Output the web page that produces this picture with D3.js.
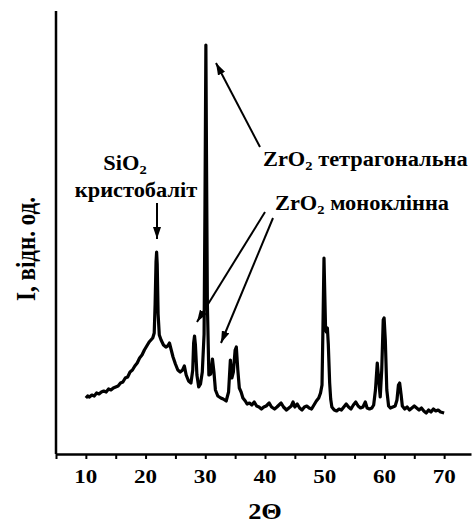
<!DOCTYPE html>
<html>
<head>
<meta charset="utf-8">
<script src="https://cdn.jsdelivr.net/npm/d3@7"></script>
<style>
  body { margin: 0; background: #fff; }
  text { font-family: "Liberation Serif", "Times New Roman", serif; font-weight: bold; fill: #000; }
</style>
</head>
<body>
<div id="chart"></div>
<script>
// XRD pattern, 2Theta in degrees, intensity in arbitrary units
const twoTheta = [
  10.0, 10.3, 10.6, 11.0, 11.4, 11.8, 12.2, 12.6, 13.0, 13.4, 13.8, 14.2, 14.6, 15.0, 15.4, 15.8,
  16.2, 16.6, 17.0, 17.4, 17.8, 18.2, 18.6, 19.0, 19.4, 19.8, 20.2, 20.6, 20.9, 21.2, 21.45, 21.6,
  21.75, 21.85, 21.95, 22.1, 22.3, 22.6, 23.0, 23.4, 23.7, 24.0, 24.3, 24.6, 25.0, 25.4, 25.8, 26.2,
  26.5, 26.8, 27.2, 27.6, 27.9, 28.05, 28.2, 28.35, 28.6, 28.9, 29.2, 29.5, 29.8, 29.95, 30.1, 30.2,
  30.35, 30.6, 30.9, 31.2, 31.45, 31.7, 32.1, 32.6, 33.0, 33.5, 33.9, 34.2, 34.45, 34.7, 35.0, 35.2,
  35.45, 35.7, 36.0, 36.3, 36.7, 37.0, 37.4, 37.8, 38.2, 38.6, 39.0, 39.4, 39.8, 40.2, 40.7, 41.1,
  41.6, 42.0, 42.7, 43.1, 43.6, 44.0, 44.4, 44.7, 45.0, 45.4, 45.8, 46.2, 46.6, 47.0, 47.4, 47.8,
  48.2, 48.6, 49.0, 49.3, 49.55, 49.7, 49.88, 50.05, 50.15, 50.3, 50.45, 50.6, 50.83, 51.0, 51.2, 51.6,
  52.0, 52.4, 52.8, 53.2, 53.6, 54.0, 54.4, 54.8, 55.2, 55.6, 56.0, 56.4, 56.8, 57.1, 57.5, 57.9,
  58.2, 58.5, 58.8, 59.05, 59.3, 59.55, 59.8, 59.95, 60.15, 60.4, 60.7, 61.0, 61.4, 61.8, 62.1, 62.35,
  62.55, 62.8, 63.0, 63.4, 63.8, 64.2, 64.6, 65.0, 65.4, 65.8, 66.2, 66.6, 67.0, 67.4, 67.8, 68.2,
  68.6, 69.0, 69.4, 70.0
];
const intensity = [
  56, 58, 57, 59, 58, 61, 60, 62, 63, 62, 65, 64, 66, 67, 68, 71,
  72, 76, 77, 82, 84, 88, 91, 96, 99, 104, 108, 112, 114, 116, 121, 150,
  192, 202, 190, 140, 119, 114, 109, 107, 108, 111, 104, 97, 90, 84, 82, 84,
  88, 79, 73, 71, 84, 111, 118, 109, 79, 67, 70, 82, 120, 250, 409, 300,
  150, 79, 80, 95, 82, 64, 58, 56, 55, 53, 62, 94, 76, 82, 104, 107,
  84, 66, 62, 56, 53, 50, 51, 49, 52, 48, 47, 45, 47, 48, 51, 47,
  45, 47, 51, 47, 44, 46, 48, 52, 47, 50, 46, 44, 47, 48, 46, 45,
  49, 53, 56, 61, 69, 124, 196, 150, 124, 122, 126, 110, 71, 55, 47, 44,
  43, 45, 44, 47, 50, 47, 45, 49, 52, 48, 46, 47, 52, 46, 45, 46,
  49, 64, 91, 74, 57, 84, 134, 136, 114, 64, 48, 46, 47, 48, 54, 69,
  71, 59, 48, 45, 47, 44, 46, 48, 46, 44, 46, 43, 41, 44, 42, 45,
  43, 44, 42, 41
];
const xTickLabels = [10, 20, 30, 40, 50, 60, 70];
const xMinorTicks = d3.range(5, 71, 5);

const data = twoTheta.map((t, i) => ({t: t, v: intensity[i]}));

const width = 472, height = 525;
const margins = {top: 11, right: 1, bottom: 71, left: 56};

const svg = d3.select("#chart")
  .append("svg")
  .attr("width", width)
  .attr("height", height);

// scales
const xScale = d3.scaleLinear()
  .domain([5, 74.5])
  .range([margins.left, width - margins.right]);

const yScale = d3.scaleLinear()
  .domain([0, 443])
  .range([height - margins.bottom, margins.top]);

// the original picture is a bit stretched sideways, so text gets a scaleX
const place = (x, y, sx, rot) =>
  `translate(${x},${y})${rot ? ` rotate(${rot})` : ""} scale(${sx},1)`;

// arrow head
svg.append("defs").append("marker")
  .attr("id", "head")
  .attr("viewBox", "0 0 12 8")
  .attr("refX", 12).attr("refY", 4)
  .attr("markerWidth", 12).attr("markerHeight", 8)
  .attr("markerUnits", "userSpaceOnUse")
  .attr("orient", "auto")
  .append("path")
  .attr("d", "M0,0 L12,4 L0,8 Z")
  .attr("fill", "#000");

// x axis
const xAxis = svg.append("g")
  .attr("transform", `translate(0,${height - margins.bottom})`)
  .call(d3.axisBottom(xScale).tickValues(xMinorTicks).tickSize(5).tickSizeOuter(0).tickFormat(""));
xAxis.select(".domain").attr("stroke-width", 2.5);
xAxis.selectAll(".tick line").attr("stroke-width", 2);

svg.append("g")
  .selectAll("text.tl")
  .data(xTickLabels)
  .join("text")
    .attr("class", "tl")
    .attr("transform", d => place(xScale(d), 483, 1.18))
    .attr("text-anchor", "middle")
    .style("font-size", "19.5px")
    .text(d => d);

// y axis (no ticks)
svg.append("line")
  .attr("x1", margins.left).attr("x2", margins.left)
  .attr("y1", yScale(443)).attr("y2", yScale(0))
  .attr("stroke", "#000")
  .attr("stroke-width", 2.5);

// axis titles
svg.append("text")
  .attr("transform", place(xScale(40), 519, 1.1))
  .attr("text-anchor", "middle")
  .style("font-size", "24px")
  .text("2Θ");

svg.append("text")
  .attr("transform", "translate(35,249) rotate(-90) scale(1,1.15)")
  .attr("text-anchor", "middle")
  .style("font-size", "23px")
  .text("I, відн. од.");

// the pattern
const line = d3.line()
  .x(d => xScale(d.t))
  .y(d => yScale(d.v));

svg.append("path")
  .datum(data)
  .attr("d", line)
  .attr("fill", "none")
  .attr("stroke", "#000")
  .attr("stroke-width", 3.2)
  .attr("stroke-linejoin", "round");

// annotations
const subText = (x, y, main, rest, anchor) => {
  const t = svg.append("text")
    .attr("transform", place(x, y, 1.12))
    .attr("text-anchor", anchor || "start")
    .style("font-size", "20px");
  t.append("tspan").text(main);
  t.append("tspan").attr("dy", 4).style("font-size", "13px").text("2");
  t.append("tspan").attr("dy", -4).text(rest);
};

subText(125, 170, "SiO", "", "middle");
svg.append("text")
  .attr("transform", place(136, 197, 1.12))
  .attr("text-anchor", "middle")
  .style("font-size", "20px")
  .text("кристобаліт");

subText(263, 166, "ZrO", " тетрагональна");
subText(275, 210, "ZrO", " моноклінна");

const arrows = [
  [157, 203, 157, 239],
  [260, 147, 216, 63],
  [265, 212, 197, 322],
  [273, 218, 221, 343]
];
svg.selectAll("line.arrow")
  .data(arrows)
  .join("line")
    .attr("class", "arrow")
    .attr("x1", d => d[0]).attr("y1", d => d[1])
    .attr("x2", d => d[2]).attr("y2", d => d[3])
    .attr("stroke", "#000")
    .attr("stroke-width", 2)
    .attr("marker-end", "url(#head)");
</script>
</body>
</html>
